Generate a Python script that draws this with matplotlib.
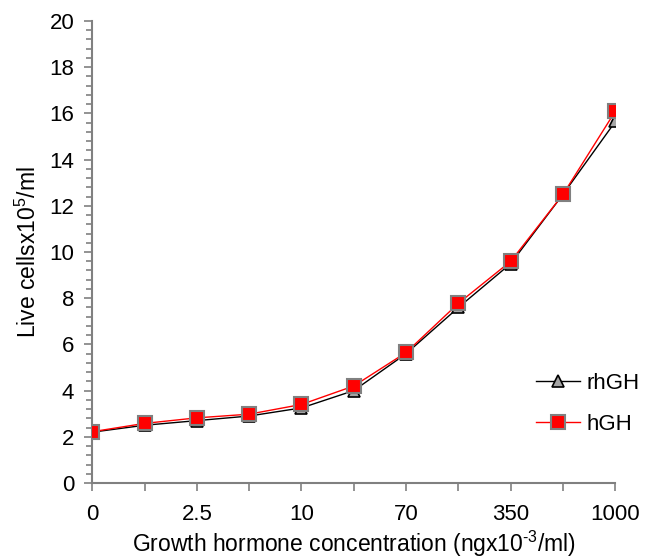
import matplotlib
matplotlib.use("Agg")
import matplotlib.pyplot as plt
from matplotlib.ticker import MultipleLocator

plt.rcParams['font.family'] = ['Liberation Sans', 'DejaVu Sans']
plt.rcParams['mathtext.fontset'] = 'custom'
plt.rcParams['mathtext.rm'] = 'Liberation Sans'
plt.rcParams['mathtext.it'] = 'Liberation Sans'
plt.rcParams['mathtext.default'] = 'regular'

x_labels = ["0", "", "2.5", "", "10", "", "70", "", "350", "", "1000"]
rhGH = [2.2, 2.5, 2.7, 2.9, 3.25, 4.0, 5.6, 7.6, 9.5, 12.5, 15.65]
hGH = [2.22, 2.58, 2.82, 2.98, 3.4, 4.2, 5.65, 7.78, 9.6, 12.5, 16.1]

fig = plt.figure(figsize=(6.54, 5.60), dpi=100)
ax = fig.add_axes([0.141, 0.1375, 0.800, 0.825])

xs = list(range(len(x_labels)))
ax.plot(xs, rhGH, color='black', lw=1.0, marker='^', markersize=9,
        markerfacecolor='#a6a6a6', markeredgecolor='black', markeredgewidth=1.2,
        label='rhGH', zorder=3)
ax.plot(xs, hGH, color='#ff0000', lw=1.0, marker='s', markersize=9.5,
        markerfacecolor='#ff0000', markeredgecolor='#808080', markeredgewidth=1.5,
        label='hGH', zorder=4)

ax.set_xlim(0, len(x_labels) - 1)
ax.set_ylim(0, 20)
ax.set_xticks(xs)
ax.set_xticklabels(x_labels)
ax.yaxis.set_major_locator(MultipleLocator(2))
ax.yaxis.set_minor_locator(MultipleLocator(0.4))

for s in ['top', 'right']:
    ax.spines[s].set_visible(False)
for s in ['left', 'bottom']:
    ax.spines[s].set_color('#808080')
    ax.spines[s].set_linewidth(1.5)
    ax.spines[s].set_clip_on(False)

ax.tick_params(axis='y', which='major', length=6, width=1.2, color='#808080',
               labelsize=16, pad=7)
ax.tick_params(axis='y', which='minor', length=4, width=1.2, color='#808080')
ax.tick_params(axis='x', which='major', length=6, width=1.2, color='#808080',
               labelsize=16, pad=9)

ax.set_xlabel('Growth hormone concentration (ngx10$^{\u2010 3}$/ml)', fontsize=16.5, labelpad=3)
ax.set_ylabel('Live cellsx10$^{5}$/ml', fontsize=16.5, labelpad=6)

ax.legend(loc='upper left', bbox_to_anchor=(536 / 654, 1 - 373 / 560),
          bbox_transform=fig.transFigure, borderaxespad=0, borderpad=0,
          frameon=False, fontsize=16, handlelength=2.0, handletextpad=0.27,
          labelspacing=0.9)

fig.savefig('out.png', dpi=100)
